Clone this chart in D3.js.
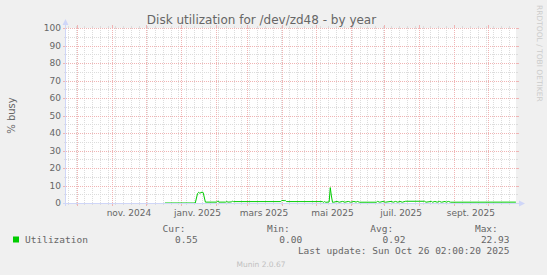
<!DOCTYPE html>
<html><head><meta charset="utf-8">
<script src="https://cdn.jsdelivr.net/npm/d3@7"></script>
<style>html,body{margin:0;padding:0;background:#f0f0f0;}svg{display:block;}</style>
</head><body>
<svg id="chart" width="547" height="275"></svg>
<script>
const title = "Disk utilization for /dev/zd48 - by year";
const yLabel = "% busy";
const yTicks = [0,10,20,30,40,50,60,70,80,90,100];
const xLabelMonths = ["2024-11-01","2025-01-01","2025-03-01","2025-05-01","2025-07-01","2025-09-01"];
const xLabelTexts = ["nov. 2024","janv. 2025","mars 2025","mai 2025","juil. 2025","sept. 2025"];
const seriesName = "Utilization";
const legendHeads = ["Cur:","Min:","Avg:","Max:"];
const legendValues = ["0.55","0.00","0.92","22.93"];
const lastUpdate = "Last update: Sun Oct 26 02:00:20 2025";
const footer = "Munin 2.0.67";
const watermark = "RRDTOOL / TOBI OETIKER";
const rangeEnd = "2025-10-26T02:00:20Z";
const rangeDays = 400;

const dates = [
 "2024-12-18","2025-01-14","2025-01-16","2025-01-17","2025-01-18","2025-01-20","2025-01-21","2025-01-23",
 "2025-02-02","2025-02-03","2025-02-04","2025-02-10","2025-02-11","2025-02-12","2025-02-15","2025-02-16","2025-02-17",
 "2025-03-31","2025-04-01","2025-04-03","2025-04-04","2025-04-05",
 "2025-05-07","2025-05-08","2025-05-09","2025-05-10","2025-05-13","2025-05-14","2025-05-15","2025-05-16",
 "2025-05-17","2025-05-20","2025-05-22","2025-05-25","2025-05-27","2025-05-30","2025-06-01","2025-06-04","2025-06-06","2025-06-07","2025-06-09",
 "2025-06-24","2025-06-25","2025-06-27","2025-06-30","2025-07-02","2025-07-07","2025-07-09","2025-07-11","2025-07-13","2025-07-15","2025-07-17",
 "2025-07-20","2025-08-06","2025-08-07","2025-08-12","2025-08-13","2025-08-15","2025-08-17","2025-08-19","2025-08-21","2025-08-24","2025-08-25","2025-08-27","2025-08-29",
 "2025-10-26"
];
const values = [
 0,0,5.4,6.1,5.6,6.2,6.0,0.5,
 0.5,1.2,0.5,0.5,0.9,0.5,0.6,1.0,0.8,
 0.8,1.5,1.3,1.5,0.8,
 0.8,0.4,0.8,0.4,0.6,8.8,4.0,0.4,
 0.45,0.9,0.45,0.9,0.45,0.9,0.45,0.9,0.5,0.9,0.45,
 0.45,0.9,0.45,0.9,0.45,0.9,0.45,0.9,0.45,0.9,0.45,
 1.0,1.0,0.45,0.9,0.45,0.9,0.45,0.9,0.45,0.9,0.45,0.9,0.45,
 0.5
];

const W = 547, H = 275;
const X0 = 66, X1 = 516, Y0 = 203, Y1 = 28;
const end = new Date(rangeEnd);
const start = new Date(end.getTime() - rangeDays*86400000);
const x = d3.scaleUtc().domain([start, end]).range([X0, X1]);
const y = d3.scaleLinear().domain([0,100]).range([Y0, Y1]);

const svg = d3.select("#chart");
svg.append("rect").attr("width",W).attr("height",H).attr("fill","#f0f0f0");
svg.append("rect").attr("x",X0).attr("y",Y1).attr("width",X1-X0).attr("height",Y0-Y1).attr("fill","#ffffff");

const GRID = "#dcdcdc", MGRID = "#f0b4b4", AXIS = "#CFD6F8", FONT = "#666666";
const g = svg.append("g").attr("shape-rendering","crispEdges");

const weeks = d3.utcMonday.range(start, end);
const months = d3.utcMonth.range(start, end);
weeks.forEach(d=>{
  const px = Math.round(x(d))+0.5;
  g.append("line").attr("x1",px).attr("x2",px).attr("y1",Y1).attr("y2",Y0).attr("stroke",GRID).attr("stroke-dasharray","1,1");
  g.append("line").attr("x1",px).attr("x2",px).attr("y1",Y0).attr("y2",Y0+2).attr("stroke",GRID);
  g.append("line").attr("x1",px).attr("x2",px).attr("y1",Y1-2).attr("y2",Y1).attr("stroke",GRID);
});
d3.range(5,100,10).forEach(v=>{
  const py = Math.round(y(v))+0.5;
  g.append("line").attr("x1",X0).attr("x2",X1).attr("y1",py).attr("y2",py).attr("stroke",GRID).attr("stroke-dasharray","1,1");
  g.append("line").attr("x1",X0-2).attr("x2",X0).attr("y1",py).attr("y2",py).attr("stroke",GRID);
  g.append("line").attr("x1",X1).attr("x2",X1+2).attr("y1",py).attr("y2",py).attr("stroke",GRID);
});
months.forEach(d=>{
  const px = Math.round(x(d))+0.5;
  g.append("line").attr("x1",px).attr("x2",px).attr("y1",Y1).attr("y2",Y0).attr("stroke",MGRID).attr("stroke-dasharray","1,1");
  g.append("line").attr("x1",px).attr("x2",px).attr("y1",Y0).attr("y2",Y0+3).attr("stroke",MGRID);
  g.append("line").attr("x1",px).attr("x2",px).attr("y1",Y1-3).attr("y2",Y1).attr("stroke",MGRID);
});
yTicks.forEach(v=>{
  const py = Math.round(y(v))+0.5;
  g.append("line").attr("x1",X0).attr("x2",X1).attr("y1",py).attr("y2",py).attr("stroke",MGRID).attr("stroke-dasharray","1,1");
  g.append("line").attr("x1",X0-3).attr("x2",X0).attr("y1",py).attr("y2",py).attr("stroke",MGRID);
  g.append("line").attr("x1",X1).attr("x2",X1+3).attr("y1",py).attr("y2",py).attr("stroke",MGRID);
});

svg.append("g").selectAll("text").data(yTicks).join("text")
  .attr("x",61).attr("y",v=>y(v)+3.3).attr("text-anchor","end")
  .attr("font-family","DejaVu Sans").attr("font-size",9).attr("fill",FONT).text(v=>v);
svg.append("g").selectAll("text").data(xLabelMonths).join("text")
  .attr("x",(d)=>x(new Date(new Date(d+"T00:00:00Z").getTime()+15*86400000)))
  .attr("y",215.7).attr("text-anchor","middle")
  .attr("font-family","DejaVu Sans").attr("font-size",9).attr("fill",FONT).text((d,i)=>xLabelTexts[i]);

const pts = dates.map((d,i)=>({t:new Date(d+"T00:00:00Z"), v:values[i]}));
svg.append("path").datum(pts)
  .attr("d", d3.line().x(p=>x(p.t)).y(p=>y(p.v)))
  .attr("fill","none").attr("stroke","#00cc00").attr("stroke-width",1);

const ax = svg.append("g").attr("shape-rendering","crispEdges");
ax.append("line").attr("x1",X0-0.5).attr("x2",X0-0.5).attr("y1",Y0+3).attr("y2",Y1-4).attr("stroke",AXIS);
ax.append("line").attr("x1",X0-3).attr("x2",X1+4).attr("y1",Y0+0.5).attr("y2",Y0+0.5).attr("stroke",AXIS);
svg.append("path").attr("d",`M${X0-3.5},${Y1-3} L${X0+2.5},${Y1-3} L${X0-0.5},${Y1-9} Z`).attr("fill",AXIS);
svg.append("path").attr("d",`M${X1+3},${Y0-2.5} L${X1+3},${Y0+3.5} L${X1+9},${Y0+0.5} Z`).attr("fill",AXIS);

svg.append("text").attr("x",261.5).attr("y",23.5).attr("text-anchor","middle")
  .attr("font-family","DejaVu Sans").attr("font-size",12).attr("fill",FONT).text(title);
svg.append("text").attr("transform",`translate(15,${(Y0+Y1)/2}) rotate(-90)`).attr("text-anchor","middle")
  .attr("font-family","DejaVu Sans").attr("font-size",10).attr("fill",FONT).text(yLabel);
svg.append("text").attr("transform",`translate(536.5,5) rotate(90)`).attr("text-anchor","start")
  .attr("font-family","DejaVu Sans").attr("font-size",7.5).attr("fill","#cccccc").text(watermark);

const mono = "DejaVu Sans Mono";
svg.append("rect").attr("x",13).attr("y",236.5).attr("width",6).attr("height",6).attr("fill","#00cc00");
svg.append("text").attr("x",25).attr("y",242.5).attr("font-family",mono).attr("font-size",9.5).attr("fill",FONT).text(seriesName);
const headX = [185.5,289.8,393.2,497.8];
const valX = [197.8,302.2,405.5,509.5];
legendHeads.forEach((h,i)=>{
  svg.append("text").attr("x",headX[i]).attr("y",231.5).attr("text-anchor","end").attr("font-family",mono).attr("font-size",9.5).attr("fill",FONT).text(h);
  svg.append("text").attr("x",valX[i]).attr("y",242.5).attr("text-anchor","end").attr("font-family",mono).attr("font-size",9.5).attr("fill",FONT).text(legendValues[i]);
});
svg.append("text").attr("x",509.5).attr("y",254).attr("text-anchor","end").attr("font-family",mono).attr("font-size",9.5).attr("fill",FONT).text(lastUpdate);
svg.append("text").attr("x",261).attr("y",266.5).attr("text-anchor","middle").attr("font-family","DejaVu Sans").attr("font-size",7.5).attr("fill","#c0c0c0").text(footer);
</script>
</body></html>
